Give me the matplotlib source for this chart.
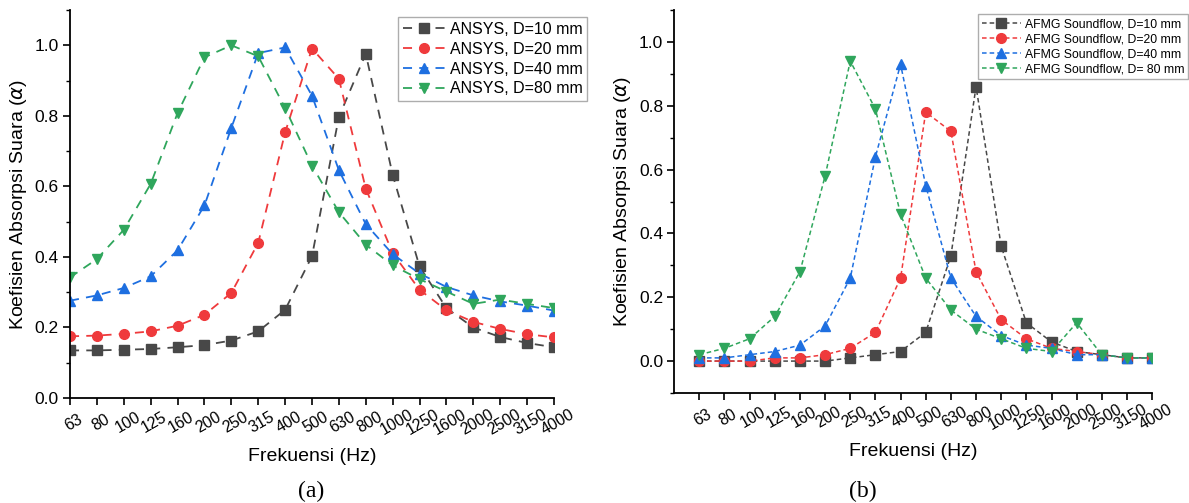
import matplotlib
matplotlib.use("Agg")
import matplotlib.pyplot as plt
import numpy as np
from matplotlib.ticker import MultipleLocator

plt.rcParams['font.family'] = ['Liberation Sans', 'DejaVu Sans']
plt.rcParams['mathtext.fontset'] = 'dejavusans'

freqs = ["63", "80", "100", "125", "160", "200", "250", "315", "400", "500",
         "630", "800", "1000", "1250", "1600", "2000", "2500", "3150", "4000"]

# (a) ANSYS
ansys_10 = [0.135, 0.135, 0.137, 0.139, 0.144, 0.150, 0.163, 0.189, 0.250, 0.402,
            0.797, 0.976, 0.633, 0.373, 0.255, 0.200, 0.173, 0.156, 0.144]
ansys_20 = [0.175, 0.177, 0.182, 0.189, 0.205, 0.236, 0.298, 0.440, 0.753, 0.991,
            0.905, 0.594, 0.411, 0.307, 0.249, 0.216, 0.196, 0.181, 0.172]
ansys_40 = [0.276, 0.291, 0.312, 0.345, 0.419, 0.546, 0.766, 0.978, 0.994, 0.857,
            0.646, 0.493, 0.408, 0.353, 0.315, 0.291, 0.274, 0.262, 0.248]
ansys_80 = [0.342, 0.394, 0.477, 0.607, 0.808, 0.966, 1.000, 0.969, 0.822, 0.659,
            0.527, 0.435, 0.376, 0.337, 0.302, 0.267, 0.279, 0.267, 0.255]

# (b) AFMG Soundflow
afmg_10 = [0.00, 0.00, 0.00, 0.00, 0.00, 0.00, 0.01, 0.02, 0.03, 0.09,
           0.33, 0.86, 0.36, 0.12, 0.06, 0.03, 0.02, 0.01, 0.01]
afmg_20 = [0.00, 0.00, 0.00, 0.01, 0.01, 0.02, 0.04, 0.09, 0.26, 0.78,
           0.72, 0.28, 0.13, 0.07, 0.04, 0.03, 0.02, 0.01, 0.01]
afmg_40 = [0.01, 0.01, 0.02, 0.03, 0.05, 0.11, 0.26, 0.64, 0.93, 0.55,
           0.26, 0.14, 0.08, 0.05, 0.04, 0.02, 0.02, 0.01, 0.01]
afmg_80 = [0.02, 0.04, 0.07, 0.14, 0.28, 0.58, 0.94, 0.79, 0.46, 0.26,
           0.16, 0.10, 0.07, 0.04, 0.03, 0.12, 0.02, 0.01, 0.01]

colors = ["#484848", "#ef3a3c", "#1e6fe0", "#2fa65c"]
markers = ["s", "o", "^", "v"]
labels_a = ["ANSYS, D=10 mm", "ANSYS, D=20 mm", "ANSYS, D=40 mm", "ANSYS, D=80 mm"]
labels_b = ["AFMG Soundflow, D=10 mm", "AFMG Soundflow, D=20 mm",
            "AFMG Soundflow, D=40 mm", "AFMG Soundflow, D= 80 mm"]

x = np.arange(len(freqs))

fig = plt.figure(figsize=(11.89, 5.03), dpi=100)
ax1 = fig.add_axes([0.0589, 0.2087, 0.407, 0.7713])
ax2 = fig.add_axes([0.567, 0.2187, 0.402, 0.7613])


def style_axes(ax):
    ax.spines['top'].set_visible(False)
    ax.spines['right'].set_visible(False)
    ax.spines['left'].set_linewidth(1.3)
    ax.spines['bottom'].set_linewidth(1.3)
    ax.set_xticks(x)
    ax.set_xticklabels(freqs, rotation=30, fontsize=11.5, rotation_mode='anchor',
                       ha='center', va='top')
    ax.yaxis.set_major_locator(MultipleLocator(0.2))
    ax.yaxis.set_minor_locator(MultipleLocator(0.1))
    ax.tick_params(axis='both', which='major', direction='out', length=5, width=1.2,
                   labelsize=12.5, pad=3)
    ax.tick_params(axis='x', labelsize=11.5, pad=8)
    ax.tick_params(axis='y', which='minor', direction='out', length=3, width=1.0)
    ax.set_ylabel(r"Koefisien Absorpsi Suara ($\alpha$)", fontsize=14)
    ax.set_xlabel("Frekuensi (Hz)", fontsize=14, labelpad=7)


for vals, c, m, lab in zip([ansys_10, ansys_20, ansys_40, ansys_80], colors, markers, labels_a):
    ax1.plot(x, vals, color=c, marker=m, markersize=7, linewidth=1.3,
             linestyle=(0, (5, 4)), label=lab)
ax1.set_xlim(0, 18)
ax1.set_ylim(0, 1.1)
style_axes(ax1)
ax1.legend(loc='upper right', bbox_to_anchor=(1.075, 0.99), fontsize=11.5, frameon=True,
           fancybox=False, edgecolor='#999999', handlelength=2.6, borderpad=0.3,
           labelspacing=0.3, handletextpad=0.3, borderaxespad=0.2)

for vals, c, m, lab in zip([afmg_10, afmg_20, afmg_40, afmg_80], colors, markers, labels_b):
    ax2.plot(x, vals, color=c, marker=m, markersize=7, linewidth=1.1,
             linestyle=(0, (3, 2)), label=lab)
ax2.set_xlim(-1, 18)
ax2.set_ylim(-0.1, 1.1)
style_axes(ax2)
ax2.legend(loc='upper right', bbox_to_anchor=(1.08, 0.995), fontsize=8.8, frameon=True,
           fancybox=False, edgecolor='#999999', handlelength=3.2, borderpad=0.3,
           labelspacing=0.25, handletextpad=0.3, borderaxespad=0.2)

fig.text(0.262, 0.022, "(a)", fontsize=17, family=['Liberation Serif', 'DejaVu Serif'],
         ha='center', va='center')
fig.text(0.726, 0.022, "(b)", fontsize=17, family=['Liberation Serif', 'DejaVu Serif'],
         ha='center', va='center')

fig.savefig("out.png", dpi=100, facecolor='white')
